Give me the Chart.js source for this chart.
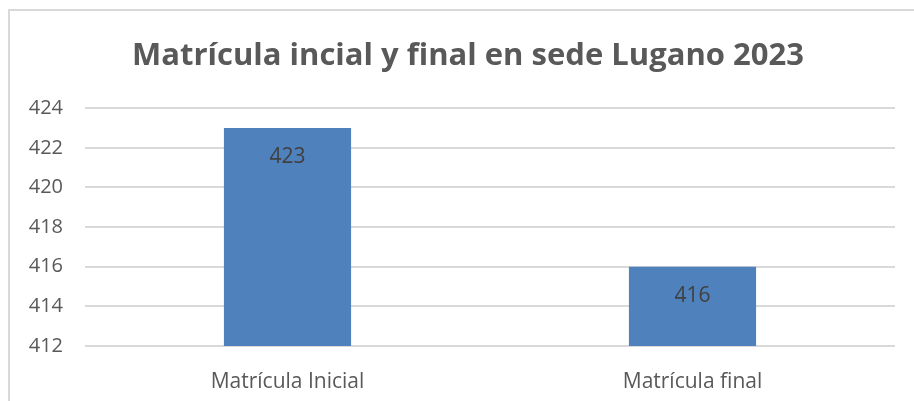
<!DOCTYPE html>
<html>
<head>
<meta charset="utf-8">
<script src="https://cdn.jsdelivr.net/npm/chart.js@4/dist/chart.umd.min.js"></script>
<style>
  body { margin: 0; background: #fff; }
  #marco { position: absolute; left: 8px; top: 9px; width: 920px; height: 400px;
           border-left: 2px solid #d9d9d9; border-top: 2px solid #d9d9d9; }
  #wrap { position: absolute; left: 0; top: 0; width: 914px; height: 401px; }
</style>
</head>
<body>
<div id="marco"></div>
<div id="wrap"><canvas id="matricula"></canvas></div>
<script>
const categorias = ["Matrícula Inicial", "Matrícula final"];
const valores = [423, 416];
const titulo = "Matrícula incial y final en sede Lugano 2023";

const fuente = "'Open Sans', 'Liberation Sans', sans-serif";

// etiquetas dentro de la barra, cerca del tope
const etiquetas = {
    id: 'etiquetas',
    afterDatasetsDraw(chart) {
        const ctx = chart.ctx;
        const meta = chart.getDatasetMeta(0);
        ctx.save();
        ctx.fillStyle = '#404040';
        ctx.font = '21px ' + fuente;
        ctx.textAlign = 'center';
        ctx.textBaseline = 'middle';
        meta.data.forEach((bar, i) => {
            ctx.fillText(String(valores[i]), bar.x, bar.y + 29);
        });
        ctx.restore();
    }
};

// el titulo de Excel va centrado un poco mas a la derecha
const moverTitulo = {
    id: 'moverTitulo',
    afterLayout(chart) {
        if (chart.titleBlock) chart.titleBlock.left += 41;
    }
};

new Chart(document.getElementById("matricula"), {
    type: 'bar',
    data: {
        labels: categorias,
        datasets: [{
            data: valores,
            backgroundColor: "#4f81bd",
            borderWidth: 0,
            categoryPercentage: 1,
            barPercentage: 0.314
        }]
    },
    options: {
        responsive: true,
        maintainAspectRatio: false,
        animation: false,
        layout: { padding: { left: 0, right: 19, top: 0, bottom: 0 } },
        plugins: {
            legend: { display: false },
            tooltip: { enabled: false },
            title: {
                display: true,
                text: titulo,
                color: '#595959',
                font: { family: fuente, size: 31, weight: 'bold', lineHeight: 1.2 },
                padding: { top: 38, bottom: 33 }
            }
        },
        scales: {
            y: {
                min: 412,
                max: 424,
                ticks: { stepSize: 2, color: '#595959', padding: 22,
                         font: { family: fuente, size: 20 } },
                grid: { color: '#d9d9d9', lineWidth: 2, drawTicks: false },
                border: { display: false },
                afterFit(scale) { scale.width = 85; }
            },
            x: {
                ticks: { color: '#595959', padding: 15,
                         font: { family: fuente, size: 21 } },
                grid: { display: false },
                border: { display: false },
                afterFit(scale) { scale.height = 55; }
            }
        }
    },
    plugins: [etiquetas, moverTitulo]
});
</script>
</body>
</html>
